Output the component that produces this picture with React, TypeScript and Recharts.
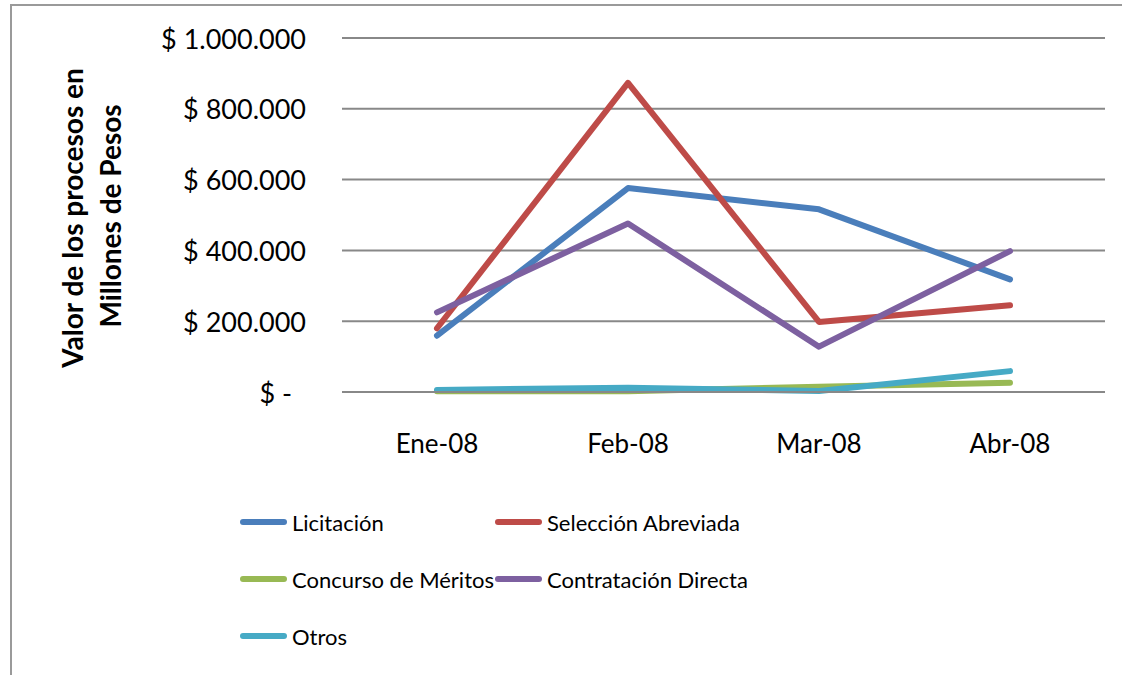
import React from 'react';
import { LineChart, Line, XAxis, YAxis, CartesianGrid, Legend } from 'recharts';

const months = ['Ene-08', 'Feb-08', 'Mar-08', 'Abr-08'];
const licitacion = [159000, 576000, 516000, 318000];
const seleccionAbreviada = [180000, 873000, 198000, 245000];
const concursoMeritos = [2000, 2000, 15000, 26000];
const contratacionDirecta = [225000, 476000, 128000, 398000];
const otros = [6000, 12000, 3000, 59000];
const yTicks = [0, 200000, 400000, 600000, 800000, 1000000];

const series = [
  { key: 'lic', name: 'Licitación', color: '#4A7EBB', values: licitacion },
  { key: 'sel', name: 'Selección Abreviada', color: '#BE4B48', values: seleccionAbreviada },
  { key: 'con', name: 'Concurso de Méritos', color: '#98B954', values: concursoMeritos },
  { key: 'dir', name: 'Contratación Directa', color: '#7D60A0', values: contratacionDirecta },
  { key: 'otr', name: 'Otros', color: '#46AAC5', values: otros },
];

const data = months.map((m, i) => {
  const row: any = { month: m };
  series.forEach((s) => (row[s.key] = s.values[i]));
  return row;
});

const FONT = 'Lato, "DejaVu Sans", sans-serif';

const fmt = (v: number) => (v === 0 ? '$ -' : '$ ' + String(v).replace(/\B(?=(\d{3})+(?!\d))/g, '.'));

const YTick = (props: any) => {
  const { x, y, payload } = props;
  const v = payload.value;
  return (
    <text x={v === 0 ? x - 14 : x} y={y} textAnchor="end" dominantBaseline="central" fontFamily={FONT} fontSize={27} fill="#000">
      {fmt(v)}
    </text>
  );
};

const XTick = (props: any) => {
  const { x, payload } = props;
  return (
    <text x={x} y={443} textAnchor="middle" dominantBaseline="central" fontFamily={FONT} fontSize={26} fill="#000">
      {payload.value}
    </text>
  );
};

const YTitle = () => (
  <g fontFamily={FONT} fontSize={28} fontWeight="bold" fill="#000">
    <text x={72} y={218} textAnchor="middle" dominantBaseline="central" transform="rotate(-90 72 218)">
      Valor de los procesos en
    </text>
    <text x={110} y={216} textAnchor="middle" dominantBaseline="central" transform="rotate(-90 110 216)">
      Millones de Pesos
    </text>
  </g>
);

const LegendContent = () => {
  const colX = [240, 495];
  const rowY = [522, 579, 636];
  return (
    <div style={{ position: 'relative', width: 1122, height: 675 }}>
      {series.map((s, i) => {
        const cx = colX[i % 2];
        const cy = rowY[Math.floor(i / 2)];
        return (
          <div key={s.key} style={{ position: 'absolute', left: cx, top: cy - 16, height: 32, display: 'flex', alignItems: 'center', whiteSpace: 'nowrap' }}>
            <div style={{ width: 47, height: 6, borderRadius: 3, background: s.color, marginRight: 5 }} />
            <span style={{ fontFamily: FONT, fontSize: 22, color: '#000' }}>{s.name}</span>
          </div>
        );
      })}
    </div>
  );
};

export default function App() {
  return (
    <div style={{ position: 'absolute', left: 0, top: 0, width: 1122, height: 675, overflow: 'hidden', background: '#fff' }}>
      <div style={{ position: 'absolute', left: 10, top: 4, width: 1300, height: 900, border: '2px solid #9a9a9a' }} />
      <div style={{ position: 'absolute', left: 0, top: 0 }}>
        <LineChart width={1122} height={675} data={data} margin={{ top: 38, right: 17, bottom: 253, left: 0 }}>
          <CartesianGrid vertical={false} stroke="#888888" strokeWidth={2} />
          <XAxis
            dataKey="month"
            height={30}
            tick={<XTick />}
            tickLine={false}
            axisLine={{ stroke: '#888888', strokeWidth: 2 }}
            interval={0}
            padding={{ left: 95, right: 95 }}
          />
          <YAxis
            width={342}
            domain={[0, 1000000]}
            ticks={yTicks}
            tick={<YTick />}
            tickLine={false}
            axisLine={false}
            tickMargin={30}
            interval={0}
            label={{ content: () => <YTitle /> }}
          />
          <Legend
            layout="horizontal"
            verticalAlign="middle"
            align="center"
            wrapperStyle={{ left: 0, top: 0, width: 1122, height: 675 }}
            content={<LegendContent />}
          />
          {series.map((s) => (
            <Line
              key={s.key}
              dataKey={s.key}
              name={s.name}
              stroke={s.color}
              strokeWidth={6}
              strokeLinecap="round"
              strokeLinejoin="round"
              dot={false}
              activeDot={false}
              isAnimationActive={false}
            />
          ))}
        </LineChart>
      </div>
    </div>
  );
}
